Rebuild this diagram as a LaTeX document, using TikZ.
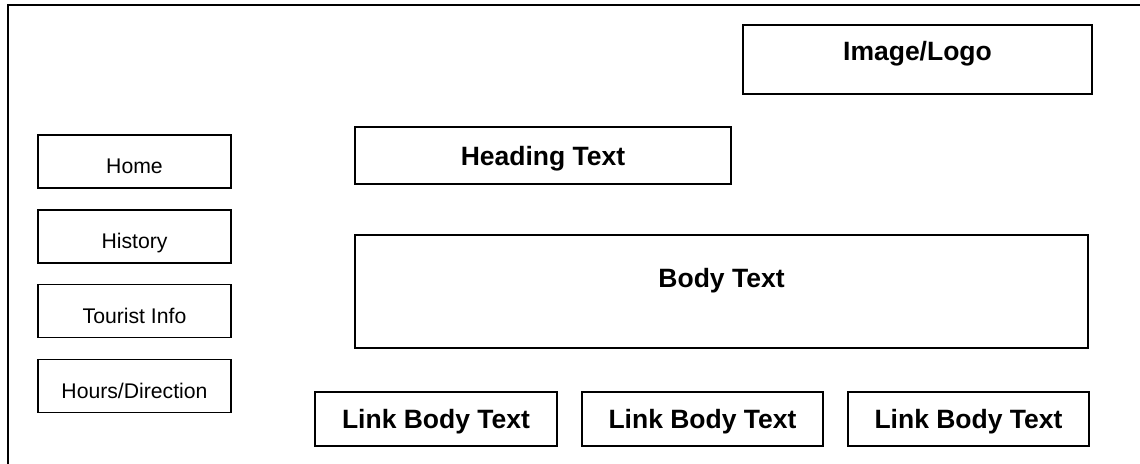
\documentclass[tikz,border=0pt]{standalone}
\usepackage{fontspec}
\setmainfont{Liberation Sans}
\begin{document}
\begin{tikzpicture}[x=1pt,y=-1pt,
  frame/.style={line width=1.8pt},
  box/.style={draw, line width=1.7pt, inner sep=0pt, outer sep=0pt},
  navbox/.style={box, minimum width=193pt, minimum height=53pt,
    font=\fontsize{21.2pt}{25pt}\selectfont, text height=24.2pt, text depth=0pt},
  boldbox/.style={box, font=\bfseries\fontsize{26.5pt}{30pt}\selectfont,
    text height=19pt, text depth=0pt},
  linkbox/.style={boldbox, minimum width=241pt, minimum height=54pt}]
\useasboundingbox (0,0) rectangle (1140,463);

% page frame, open to the right and the bottom
\coordinate (fr) at (1150,5);
\coordinate (fc) at (8,5);
\coordinate (fb) at (8,470);
\draw[frame] (fr) -- (fc) -- (fb);

% navigation column
\node[navbox] (home)    at (134.5,161.5) {Home};
\node[navbox] (history) at (134.5,236.5) {History};
\node[navbox] (tourist) at (134.5,311)   {Tourist Info};
\node[navbox] (hours)   at (134.5,386)   {Hours/Direction};

% page content
\node[boldbox, minimum width=349pt, minimum height=69pt,
      text height=2pt] (logo) at (917.5,59.5) {Image/Logo};
\node[boldbox, minimum width=376pt, minimum height=57pt] (heading) at (543,155.5) {Heading Text};
\node[boldbox, minimum width=733pt, minimum height=113pt,
      text height=0pt, text depth=9pt] (body) at (721.5,291.5) {Body Text};

% link row
\node[linkbox, minimum width=242pt] (link1) at (436,419)   {Link Body Text};
\node[linkbox] (link2) at (702.5,419) {Link Body Text};
\node[linkbox] (link3) at (968.5,419) {Link Body Text};
\end{tikzpicture}
\end{document}
